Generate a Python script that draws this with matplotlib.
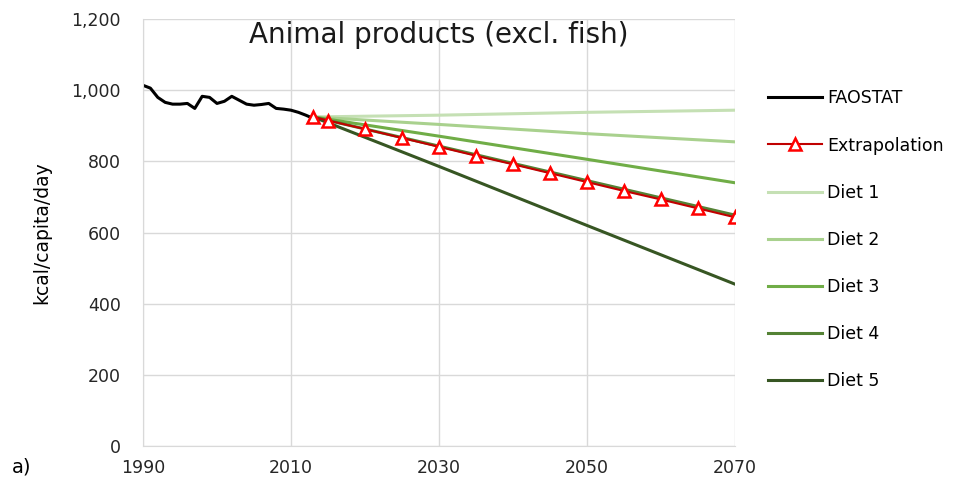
import numpy as np
import matplotlib.pyplot as plt
from matplotlib.ticker import FuncFormatter

plt.rcParams['font.family'] = ['DejaVu Sans']

# FAOSTAT historical supply, kcal/capita/day
fao_years = list(range(1990, 2014))
fao_vals = [1014, 1006, 980, 966, 961, 961, 963, 949, 983, 980, 963, 969,
            983, 972, 961, 958, 960, 963, 949, 947, 944, 938, 930, 921]

# Extrapolation of the trend
ext_years = [2013, 2015, 2020, 2025, 2030, 2035, 2040, 2045, 2050, 2055, 2060, 2065, 2070]
ext_vals = [925, 915, 891, 866, 841, 816, 792, 767, 742, 717, 693, 668, 643]

# Diet scenarios
diet_years = [2013, 2030, 2050, 2070]
diet1 = [925, 930, 938, 944]
diet2 = [925, 904, 878, 855]
diet3 = [925, 871, 806, 740]
diet4 = [925, 843, 746, 649]
diet5 = [925, 786, 620, 455]

diet_colors = ['#c5e0b4', '#a9d18e', '#70ad47', '#548235', '#375623']

fig = plt.figure(figsize=(9.57, 4.78), dpi=100)
ax = fig.add_axes([0.1494, 0.0669, 0.6186, 0.8931])

ax.plot(fao_years, fao_vals, color='black', lw=2.2, label='FAOSTAT')
ax.plot(ext_years, ext_vals, color='#c00000', lw=1.5, marker='^', ms=8.5,
        mfc='white', mec='#ff0000', mew=1.8, label='Extrapolation', zorder=4)
for i, d in enumerate([diet1, diet2, diet3, diet4, diet5]):
    ax.plot(diet_years, d, color=diet_colors[i], lw=2.2, label=f'Diet {i + 1}', zorder=3)

ax.set_xlim(1990, 2070)
ax.set_ylim(0, 1200)
ax.set_xticks([1990, 2010, 2030, 2050, 2070])
ax.set_yticks(range(0, 1201, 200))
ax.yaxis.set_major_formatter(FuncFormatter(lambda v, p: f'{int(v):,}'))
ax.grid(True, color='#d9d9d9', lw=1)
ax.set_axisbelow(True)
for s in ['top', 'right']:
    ax.spines[s].set_visible(False)
for s in ['left', 'bottom']:
    ax.spines[s].set_color('#d9d9d9')
ax.tick_params(length=0, labelsize=12.5, labelcolor='#262626')
ax.tick_params(axis='y', pad=16)
ax.tick_params(axis='x', pad=9)

ax.set_ylabel('kcal/capita/day', fontsize=13.5,
              family=['Liberation Sans Narrow', 'DejaVu Sans'])
ax.yaxis.set_label_coords(-0.155, 0.5)
ax.text(0.5, 0.995, 'Animal products (excl. fish)', transform=ax.transAxes,
        ha='center', va='top', fontsize=20, color='#1a1a1a')
fig.text(0.012, 0.012, 'a)', fontsize=14, color='black')

leg = fig.legend(loc='upper left', bbox_to_anchor=(0.8025, 0.813), frameon=False,
                 fontsize=12.5, labelspacing=1.68, handlelength=3.1,
                 handletextpad=0.3, borderpad=0, borderaxespad=0)

fig.savefig('out.png', dpi=100)
